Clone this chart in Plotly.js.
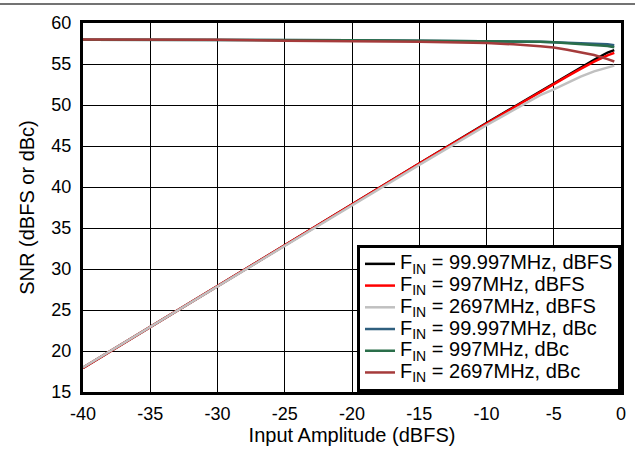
<!DOCTYPE html>
<html>
<head>
<meta charset="utf-8">
<script src="https://cdn.plot.ly/plotly-3.0.1.min.js"></script>
<style>html,body{margin:0;padding:0;background:#fff;}#chart{width:635px;height:449px;}</style>
</head>
<body>
<div id="chart"></div>
<script>
const amplitude = [-40, -35, -30, -25, -20, -15, -10, -8, -6, -5, -4, -3, -2, -1, -0.5];

const dbfs100  = [17.95, 22.95, 27.95, 32.9, 37.9, 42.85, 47.8, 49.75, 51.7, 52.65, 53.6, 54.55, 55.5, 56.4, 56.7];
const dbfs997  = [17.95, 22.95, 27.95, 32.9, 37.9, 42.85, 47.75, 49.7, 51.6, 52.6, 53.5, 54.4, 55.3, 56.05, 56.35];
const dbfs2697 = [18.0, 22.95, 27.9, 32.85, 37.8, 42.7, 47.55, 49.4, 51.2, 51.9, 52.7, 53.45, 54.1, 54.6, 54.8];
const dbc100   = [57.95, 57.95, 57.95, 57.9, 57.9, 57.85, 57.8, 57.75, 57.7, 57.65, 57.6, 57.55, 57.5, 57.4, 57.3];
const dbc997   = [57.95, 57.95, 57.95, 57.9, 57.9, 57.85, 57.8, 57.75, 57.7, 57.65, 57.55, 57.45, 57.35, 57.2, 57.05];
const dbc2697  = [58.0, 58.0, 57.95, 57.85, 57.8, 57.7, 57.55, 57.4, 57.15, 57.0, 56.75, 56.45, 56.1, 55.6, 55.3];

const seriesNames = [
  "F<sub>IN</sub> = 99.997MHz, dBFS",
  "F<sub>IN</sub> = 997MHz, dBFS",
  "F<sub>IN</sub> = 2697MHz, dBFS",
  "F<sub>IN</sub> = 99.997MHz, dBc",
  "F<sub>IN</sub> = 997MHz, dBc",
  "F<sub>IN</sub> = 2697MHz, dBc"
];
const seriesValues = [dbfs100, dbfs997, dbfs2697, dbc100, dbc997, dbc2697];
const seriesColors = ["#000000", "#ff0000", "#c0c0c0", "#2f5f7e", "#2a6e4a", "#a53b3b"];

const xTicks = [-40, -35, -30, -25, -20, -15, -10, -5, 0];
const yTicks = [15, 20, 25, 30, 35, 40, 45, 50, 55, 60];

// drawing order (bottom to top)
const drawOrder = [0, 1, 2, 3, 4, 5];
const traces = drawOrder.map(i => ({
  x: amplitude, y: seriesValues[i],
  name: '<span style="font-size:20px">' + seriesNames[i] + '</span>',
  type: 'scatter', mode: 'lines',
  line: {color: seriesColors[i], width: 2.5}, legendrank: i + 1
}));

const layout = {
  width: 635, height: 449,
  margin: {l: 83, r: 14, t: 23, b: 57},
  paper_bgcolor: '#fff', plot_bgcolor: '#fff',
  font: {family: 'Liberation Sans, Arial, sans-serif', size: 18, color: '#000'},
  showlegend: true,
  legend: {
    x: 1, y: 0, xanchor: 'right', yanchor: 'bottom',
    bgcolor: '#fff', bordercolor: '#000', borderwidth: 3,
    font: {size: 14.4}, tracegroupgap: 0, traceorder: 'normal'
  },
  xaxis: {
    range: [-40, 0], tickvals: xTicks, ticktext: xTicks.map(String),
    showgrid: true, gridcolor: '#000', gridwidth: 1,
    showline: true, linecolor: '#000', linewidth: 3, mirror: true,
    ticks: '', zeroline: false, tickfont: {size: 18}, ticklabelstandoff: 3,
    title: {text: 'Input Amplitude (dBFS)', font: {size: 20}, standoff: 4}
  },
  yaxis: {
    range: [15, 60], tickvals: yTicks, ticktext: yTicks.map(String),
    showgrid: true, gridcolor: '#000', gridwidth: 1,
    showline: true, linecolor: '#000', linewidth: 3, mirror: true,
    ticks: '', zeroline: false, tickfont: {size: 18}, ticklabelstandoff: 5,
    title: {text: 'SNR (dBFS or dBc)', font: {size: 20}, standoff: 12}
  },
  shapes: [{
    type: 'line', xref: 'paper', yref: 'paper',
    x0: -0.16, x1: 1.03, y0: 1.0515, y1: 1.0515,
    line: {color: '#444', width: 1.5}
  }]
};

Plotly.newPlot('chart', traces, layout, {displayModeBar: false, staticPlot: true});
</script>
</body>
</html>
